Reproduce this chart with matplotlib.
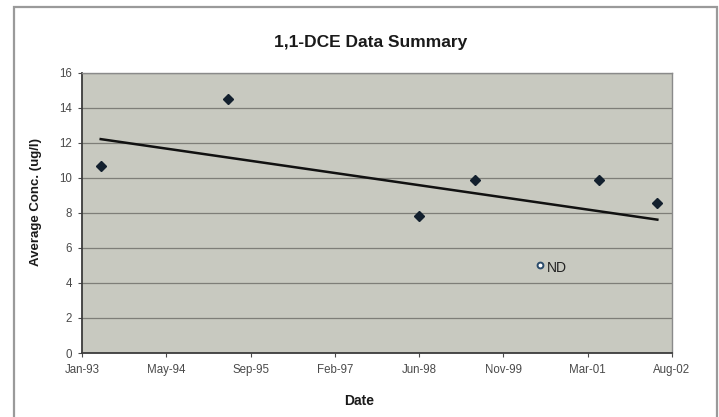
import matplotlib
matplotlib.use("Agg")
import matplotlib.pyplot as plt
import matplotlib.dates as mdates
import numpy as np
from matplotlib.patches import Rectangle

plt.rcParams['font.family'] = ['Liberation Sans', 'DejaVu Sans']

# Data
detect_dates = ["1993-04-22", "1995-05-15", "1998-06-25", "1999-05-21", "2001-05-28", "2002-05-07"]
detect_values = [10.7, 14.5, 7.83, 9.85, 9.89, 8.55]
nd_dates = ["2000-06-10"]
nd_values = [5.03]
nd_label = "ND"
tick_dates = ["1993-01-01", "1994-05-16", "1995-09-28", "1997-02-09",
              "1998-06-24", "1999-11-06", "2001-03-20", "2002-08-02"]
title = "1,1-DCE Data Summary"
xlabel = "Date"
ylabel = "Average Conc. (ug/l)"

dx = mdates.datestr2num(detect_dates)
nx = mdates.datestr2num(nd_dates)
tx = mdates.datestr2num(tick_dates)

fig = plt.figure(figsize=(7.19, 4.17), dpi=100)
fig.patch.set_facecolor("white")

# outer chart frame
fig.add_artist(Rectangle((14/719, -0.01), (717-14)/719, 1 - 7/417 + 0.01,
                         transform=fig.transFigure, fill=False,
                         edgecolor="#9a9a9a", linewidth=1.6))

ax = fig.add_axes([82/719, 1-353/417, (672-82)/719, (353-72.7)/417])
ax.set_facecolor("#c8c9c0")

ax.set_xlim(tx[0], tx[-1])
ax.set_ylim(0, 16)
ax.set_yticks(np.arange(0, 17, 2))
ax.set_xticks(tx)
ax.xaxis.set_major_formatter(mdates.DateFormatter("%b-%y"))

ax.grid(axis="y", color="#7e7e78", linewidth=0.9)
ax.set_axisbelow(True)

for s in ["left", "bottom"]:
    ax.spines[s].set_color("#3c3c3c")
    ax.spines[s].set_linewidth(1.3)
for s in ["top", "right"]:
    ax.spines[s].set_color("#8a8a8a")
    ax.spines[s].set_linewidth(1.0)

ax.tick_params(axis="both", labelsize=8.3, colors="#4a4a4a", length=3, width=0.8,
               direction="out")
ax.tick_params(axis="x", pad=5)
ax.tick_params(axis="y", pad=4)

# trend line (linear fit over all samples)
allx = np.concatenate([dx, nx])
ally = np.concatenate([detect_values, nd_values])
coef = np.polyfit(allx, ally, 1)
lx = np.array([allx.min(), allx.max()])
ax.plot(lx, np.polyval(coef, lx), color="#111111", linewidth=1.8, zorder=3)

ax.plot(dx, detect_values, linestyle="none", marker="D", markersize=5.5,
        color="#13202e", zorder=4)
ax.plot(nx, nd_values, linestyle="none", marker="o", markersize=4.2,
        markerfacecolor="white", markeredgecolor="#2a4a6a", markeredgewidth=1.4,
        zorder=4)
ax.annotate(nd_label, (nx[0], nd_values[0]), xytext=(5, -5),
            textcoords="offset points", fontsize=10, color="#222222")

fig.text(371/719, 1-42/417, title, ha="center", va="center",
         fontsize=12.5, fontweight="bold", color="#1a1a1a")
fig.text(359/719, 1-401/417, xlabel, ha="center", va="center",
         fontsize=10, fontweight="bold", color="#1a1a1a")
fig.text(36/719, 1-202/417, ylabel, ha="center", va="center", rotation=90,
         fontsize=9.5, fontweight="bold", color="#1a1a1a")

fig.savefig("out.png", dpi=100)
